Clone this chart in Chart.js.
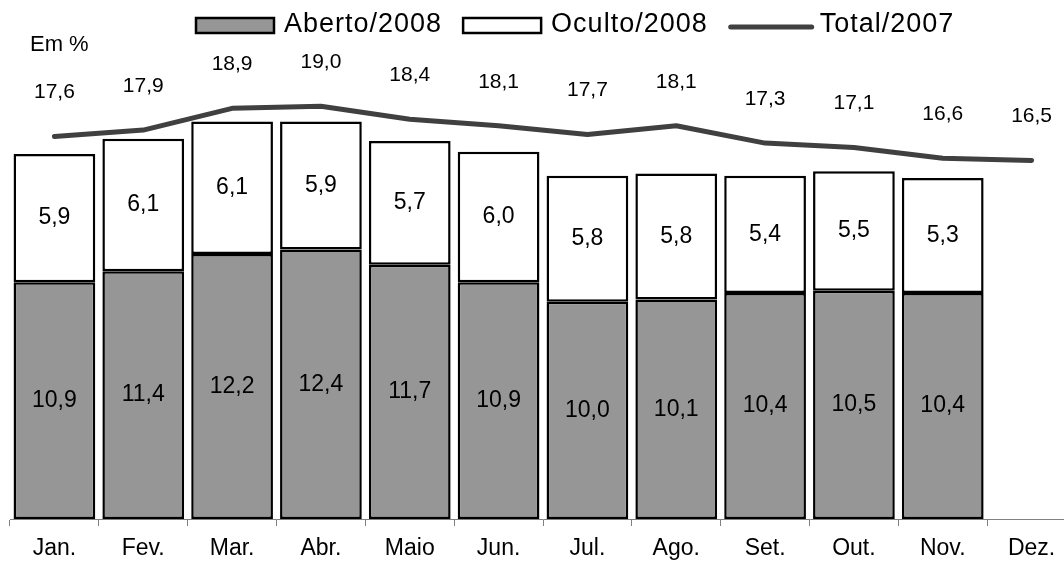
<!DOCTYPE html>
<html><head><meta charset="utf-8">
<script src="https://cdn.jsdelivr.net/npm/chart.js@4/dist/chart.umd.min.js"></script>
<style>
html,body{margin:0;padding:0;overflow:hidden;background:#fff;width:1064px;height:562px}
#wrap{position:absolute;left:0;top:0;width:1078px;height:562px}
</style>
</head><body><div id="wrap"><canvas id="c" width="1078" height="562"></canvas></div>
<script>
const categories = ['Jan.','Fev.','Mar.','Abr.','Maio','Jun.','Jul.','Ago.','Set.','Out.','Nov.','Dez.'];
const aberto2008 = [10.9,11.4,12.2,12.4,11.7,10.9,10.0,10.1,10.4,10.5,10.4,null];
const oculto2008 = [5.9,6.1,6.1,5.9,5.7,6.0,5.8,5.8,5.4,5.5,5.3,null];
const total2007 = [17.6,17.9,18.9,19.0,18.4,18.1,17.7,18.1,17.3,17.1,16.6,16.5];
const seriesNames = ['Aberto/2008','Oculto/2008','Total/2007'];
const unitLabel = 'Em %';

const FONT = '"Liberation Sans", Arial, Helvetica, sans-serif';
const fmt = v => v.toFixed(1).replace('.', ',');

const labelsPlugin = {
  id: 'valueLabels',
  afterDatasetsDraw(chart) {
    const ctx = chart.ctx;
    ctx.save();
    ctx.fillStyle = '#000';
    ctx.textAlign = 'center';
    ctx.textBaseline = 'middle';
    ctx.font = '23px ' + FONT;
    [0, 1].forEach(di => {
      const meta = chart.getDatasetMeta(di);
      meta.data.forEach((el, i) => {
        const v = chart.data.datasets[di].data[i];
        if (v == null) return;
        const c = el.getCenterPoint();
        ctx.fillText(fmt(v), c.x, c.y);
      });
    });
    ctx.font = '21px ' + FONT;
    const lm = chart.getDatasetMeta(2);
    lm.data.forEach((p, i) => {
      const v = chart.data.datasets[2].data[i];
      if (v == null) return;
      ctx.fillText(fmt(v), p.x, p.y - 44);
    });
    ctx.restore();
  }
};

const legendPlugin = {
  id: 'customLegend',
  afterDraw(chart) {
    const ctx = chart.ctx;
    ctx.save();
    ctx.font = '27px ' + FONT;
    ctx.letterSpacing = '1px';
    ctx.textBaseline = 'middle';
    ctx.textAlign = 'left';
    ctx.fillStyle = '#000';
    const cy = 25;
    let x = 196;
    chart.data.datasets.forEach((ds, i) => {
      if (ds.type === 'line') {
        ctx.strokeStyle = ds.borderColor;
        ctx.lineWidth = 5;
        ctx.lineCap = 'round';
        ctx.beginPath();
        ctx.moveTo(x + 2, cy + 2);
        ctx.lineTo(x + 83, cy + 2);
        ctx.stroke();
        x += 91;
      } else {
        ctx.fillStyle = ds.backgroundColor;
        ctx.fillRect(x, cy - 7, 78, 15);
        ctx.strokeStyle = '#000';
        ctx.lineWidth = 2.5;
        ctx.strokeRect(x, cy - 7, 78, 15);
        x += 88;
      }
      ctx.fillStyle = '#000';
      ctx.fillText(ds.label, x, cy);
      x += ctx.measureText(ds.label).width + 21;
    });
    ctx.letterSpacing = '0px';
    ctx.font = '22px ' + FONT;
    ctx.fillText(unitLabel, 30, 45);
    ctx.restore();
  }
};

new Chart(document.getElementById('c'), {
  data: {
    labels: categories,
    datasets: [
      { type: 'bar', label: seriesNames[0], data: aberto2008, backgroundColor: '#969696',
        borderColor: '#000', borderWidth: 2.5, borderSkipped: false, stack: 'y2008', order: 1,
        barPercentage: 0.92, categoryPercentage: 1 },
      { type: 'bar', label: seriesNames[1], data: oculto2008, backgroundColor: '#ffffff',
        borderColor: '#000', borderWidth: 2.5, borderSkipped: false, stack: 'y2008', order: 1,
        barPercentage: 0.92, categoryPercentage: 1 },
      { type: 'line', label: seriesNames[2], data: total2007, borderColor: '#404040',
        borderWidth: 5, pointRadius: 0, tension: 0, fill: false, stack: 'y2007', order: 0,
        borderCapStyle: 'round', borderJoinStyle: 'round' }
    ]
  },
  options: {
    responsive: false,
    animation: false,
    events: [],
    layout: { padding: { top: 41, left: 10, right: 2, bottom: 0 } },
    plugins: { legend: { display: false }, tooltip: { enabled: false }, title: { display: false } },
    scales: {
      x: {
        stacked: true,
        offset: true,
        grid: { offset: true, drawOnChartArea: false, drawTicks: true, tickLength: 7, color: '#808080', lineWidth: 1 },
        border: { display: true, color: '#808080', width: 1 },
        ticks: { color: '#000', font: { family: FONT, size: 23 }, padding: 9, maxRotation: 0, autoSkip: false },
        afterFit(scale) { scale.height = 43; }
      },
      y: { stacked: true, display: false, min: 0, max: 22 }
    }
  },
  plugins: [labelsPlugin, legendPlugin]
});
</script>
</body></html>
